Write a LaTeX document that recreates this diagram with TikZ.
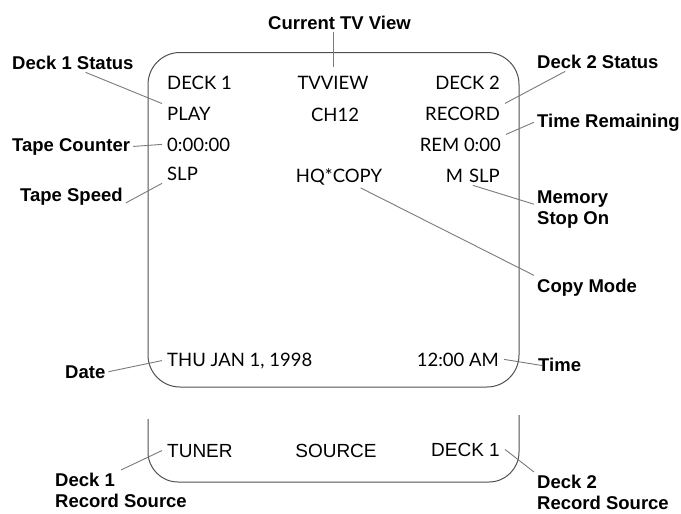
\documentclass[tikz,border=0pt]{standalone}
\usepackage{fontspec}
\setmainfont{Liberation Sans}
\newfontfamily\osdfont{Lato}
\usepackage{xcolor}
\definecolor{framegray}{HTML}{505050}
\definecolor{leadgray}{HTML}{7A7A7A}

\begin{document}
\begin{tikzpicture}[x=1pt, y=-1pt,
    lbl/.style={font=\fontsize{18.5}{20.5}\selectfont\bfseries, inner sep=3pt, align=left},
    osd/.style={font=\osdfont\fontsize{18.5}{20}\selectfont, inner xsep=5pt, inner ysep=3pt},
    src/.style={font=\fontsize{19}{20}\selectfont, inner xsep=5pt, inner ysep=3pt},
    lead/.style={color=leadgray, line width=0.9pt}]
    \useasboundingbox (0,0) rectangle (681,514);

    % screen and source strip
    \draw[framegray, line width=1pt, rounded corners=32pt] (148,52.5) rectangle (519,387);
    \draw[framegray, line width=1pt, rounded corners=30pt] (148,419) -- (148,482) -- (519,482) -- (519,415);

    % on-screen text
    \node[osd, anchor=base west] (deck1) at (162,89) {DECK 1};
    \node[osd, anchor=base west] (play) at (162,120) {PLAY};
    \node[osd, anchor=base west] (counter) at (162,151) {0:00:00};
    \node[osd, anchor=base west] (slp) at (162,180) {SLP};
    \node[osd, anchor=base] (tvview) at (333,89) {TVVIEW};
    \node[osd, anchor=base] (ch) at (335,121) {CH12};
    \node[osd, anchor=base] (hqcopy) at (339,182) {HQ*COPY};
    \node[osd, anchor=base east] (deck2) at (505,89) {DECK 2};
    \node[osd, anchor=base east] (record) at (505,120) {RECORD};
    \node[osd, anchor=base east] (rem) at (506,151) {REM 0:00};
    \node[osd, anchor=base east] (mslp) at (505,182) {M\hspace{6pt}SLP};
    \node[osd, anchor=base west] (thu) at (162,366) {THU JAN 1, 1998};
    \node[osd, anchor=base east] (clock) at (504,366) {12:00 AM};
    \node[src, anchor=base west] (tuner) at (162,457) {TUNER};
    \node[src, anchor=base] (source) at (336,457) {SOURCE};
    \node[src, anchor=base east] (deck1src) at (505,456) {DECK 1};

    % callout labels
    \node[lbl, anchor=base west] (curtv) at (265,29) {Current TV View};
    \node[lbl, anchor=base west] (d1stat) at (9,69) {Deck 1 Status};
    \node[lbl, anchor=base west] (tcount) at (9,151) {Tape Counter};
    \node[lbl, anchor=base west] (tspeed) at (17,201) {Tape Speed};
    \node[lbl, anchor=base west] (date) at (62,378) {Date};
    \node[lbl, anchor=north west] (d1src) at (52,470) {Deck 1\\Record Source};
    \node[lbl, anchor=base west] (d2stat) at (534,68) {Deck 2 Status};
    \node[lbl, anchor=base west] (tremain) at (534,127) {Time Remaining};
    \node[lbl, anchor=north west] (memstop) at (534,188) {Memory\\Stop On};
    \node[lbl, anchor=base west] (copymode) at (534,292) {Copy Mode};
    \node[lbl, anchor=base west] (time) at (535,371) {Time};
    \node[lbl, anchor=north west] (d2src) at (534,472) {Deck 2\\Record Source};

    % leader lines
    \draw[lead] (curtv.south -| tvview.north) -- ([yshift=6pt]tvview.north);
    \draw[lead] (d1stat.-38) -- (play.north west);
    \draw[lead] (tcount.east) -- (counter.west);
    \draw[lead] (tspeed.-7) -- (slp.south west);
    \draw[lead] (date.east) -- (thu.west);
    \draw[lead] (d1src.north) -- (tuner.west);
    \draw[lead] (d2stat.-163) -- (record.north east);
    \draw[lead] (tremain.west) -- (rem.north east);
    \draw[lead] (memstop.172) -- (mslp.south);
    \draw[lead] (copymode.north west) -- (hqcopy.-28);
    \draw[lead, shorten >=-7pt] (clock.east) -- (time.west);
    \draw[lead] (deck1src.east) -- (d2src.north west);
\end{tikzpicture}
\end{document}
